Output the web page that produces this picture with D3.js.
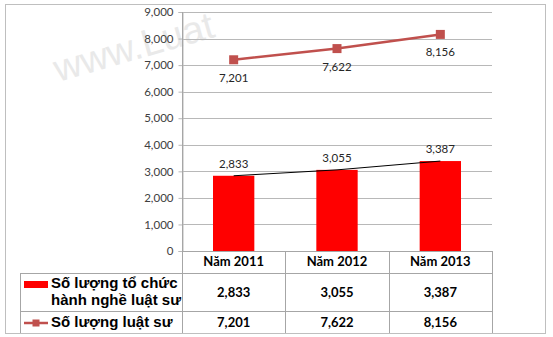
<!DOCTYPE html>
<html>
<head>
<meta charset="utf-8">
<script src="https://cdn.jsdelivr.net/npm/d3@7"></script>
<style>
  html, body { margin: 0; padding: 0; background: #fff; }
  svg { display: block; }
</style>
</head>
<body>
<svg id="chart" width="553" height="337"></svg>
<script>
const categories = ["Năm 2011", "Năm 2012", "Năm 2013"];
const orgCounts = [2833, 3055, 3387];
const lawyerCounts = [7201, 7622, 8156];
const yTicks = [0, 1000, 2000, 3000, 4000, 5000, 6000, 7000, 8000, 9000];
const orgLegendLines = ["Số lượng tổ chức", "hành nghề luật sư"];
const lawyerLegend = "Số lượng luật sư";
const watermark = "www.Luat";

const svg = d3.select("#chart");
const plotL = 182, plotR = 492, plotT = 12, plotB = 251;
const tableL = 20, row1B = 273, row2B = 311, tableB = 333;
const gridColor = "#B8B8B8";
const lineColor = "#C0504D";
const fmt = d3.format(",");

// watermark
svg.append("text")
  .attr("transform", "translate(58,82) rotate(-16)")
  .attr("font-family", "Liberation Sans, Arial, sans-serif")
  .attr("font-size", 38)
  .attr("fill", "#E9E9E9")
  .text(watermark);

// outer border
svg.append("rect")
  .attr("x", 5.5).attr("y", 4.5)
  .attr("width", 540).attr("height", tableB - 4)
  .attr("fill", "none").attr("stroke", "#BFBFBF").attr("stroke-width", 1);

const x = d3.scaleBand().domain(categories).range([plotL, plotR]);
const barW = x.bandwidth() * 0.4;
const y = d3.scaleLinear().domain([0, 9000]).range([plotB, plotT]);

// gridlines
svg.append("g").selectAll("line").data(yTicks.filter(d => d > 0)).join("line")
  .attr("x1", plotL).attr("x2", plotR)
  .attr("y1", d => Math.round(y(d)) + 0.5).attr("y2", d => Math.round(y(d)) + 0.5)
  .attr("stroke", gridColor).attr("stroke-width", 1);

// y axis
const yAxis = svg.append("g")
  .attr("transform", `translate(${plotL + 0.5},0)`)
  .call(d3.axisLeft(y).tickValues(yTicks).tickSize(4).tickPadding(5).tickFormat(fmt));
yAxis.select(".domain").attr("stroke", gridColor);
yAxis.selectAll(".tick line").attr("stroke", gridColor);
yAxis.selectAll(".tick text")
  .attr("font-family", "Lato, sans-serif").attr("font-size", 11.5).attr("fill", "#404040");

// bars
svg.append("g").selectAll("rect").data(categories).join("rect")
  .attr("x", d => x(d) + (x.bandwidth() - barW) / 2)
  .attr("width", barW)
  .attr("y", (d, i) => y(orgCounts[i]))
  .attr("height", (d, i) => plotB - y(orgCounts[i]))
  .attr("fill", "#FF0000");

// thin black line through bar tops
const cx = d => x(d) + x.bandwidth() / 2;
svg.append("path")
  .datum(categories)
  .attr("d", d3.line().x(d => cx(d)).y((d, i) => y(orgCounts[i])))
  .attr("fill", "none").attr("stroke", "#000").attr("stroke-width", 1);

// bar labels
svg.append("g").selectAll("text").data(categories).join("text")
  .attr("x", d => cx(d))
  .attr("y", (d, i) => y(orgCounts[i]) - 8)
  .attr("text-anchor", "middle")
  .attr("font-family", "Lato, sans-serif").attr("font-size", 11.5).attr("fill", "#262626")
  .text((d, i) => fmt(orgCounts[i]));

// lawyer line
svg.append("path")
  .datum(categories)
  .attr("d", d3.line().x(d => cx(d)).y((d, i) => y(lawyerCounts[i])))
  .attr("fill", "none").attr("stroke", lineColor).attr("stroke-width", 2.5);
svg.append("g").selectAll("rect").data(categories).join("rect")
  .attr("x", d => cx(d) - 4.5).attr("y", (d, i) => y(lawyerCounts[i]) - 4.5)
  .attr("width", 9).attr("height", 9)
  .attr("fill", lineColor);
svg.append("g").selectAll("text").data(categories).join("text")
  .attr("x", d => cx(d))
  .attr("y", (d, i) => y(lawyerCounts[i]) + 22)
  .attr("text-anchor", "middle")
  .attr("font-family", "Lato, sans-serif").attr("font-size", 11.5).attr("fill", "#262626")
  .text((d, i) => fmt(lawyerCounts[i]));

// data table
const tbl = svg.append("g").attr("stroke", "#A6A6A6").attr("stroke-width", 1);
tbl.append("line").attr("x1", plotL).attr("x2", plotR).attr("y1", plotB + 0.5).attr("y2", plotB + 0.5);
tbl.append("line").attr("x1", tableL).attr("x2", plotR).attr("y1", row1B + 0.5).attr("y2", row1B + 0.5);
tbl.append("line").attr("x1", tableL).attr("x2", plotR).attr("y1", row2B + 0.5).attr("y2", row2B + 0.5);
tbl.append("line").attr("x1", tableL + 0.5).attr("x2", tableL + 0.5).attr("y1", row1B).attr("y2", tableB);
const dividers = categories.map(d => x(d)).concat([plotR]);
tbl.selectAll(".vd").data(dividers).join("line")
  .attr("x1", d => Math.round(d) + 0.5).attr("x2", d => Math.round(d) + 0.5)
  .attr("y1", (d, i) => i === 0 ? plotT : plotB).attr("y2", tableB);

const tf = "Lato, sans-serif";
svg.append("g").selectAll("text").data(categories).join("text")
  .attr("x", d => cx(d)).attr("y", 266)
  .attr("text-anchor", "middle").attr("font-family", tf).attr("font-weight", "bold")
  .attr("font-size", 13).attr("fill", "#000").text(d => d);
svg.append("g").selectAll("text").data(categories).join("text")
  .attr("x", d => cx(d)).attr("y", 297)
  .attr("text-anchor", "middle").attr("font-family", tf).attr("font-weight", "bold")
  .attr("font-size", 13).attr("fill", "#000").text((d, i) => fmt(orgCounts[i]));
svg.append("g").selectAll("text").data(categories).join("text")
  .attr("x", d => cx(d)).attr("y", 327)
  .attr("text-anchor", "middle").attr("font-family", tf).attr("font-weight", "bold")
  .attr("font-size", 13).attr("fill", "#000").text((d, i) => fmt(lawyerCounts[i]));

// legend keys
svg.append("rect").attr("x", 24).attr("y", 281).attr("width", 24).attr("height", 7).attr("fill", "#FF0000");
svg.append("line").attr("x1", 24).attr("x2", 48).attr("y1", 323).attr("y2", 323)
  .attr("stroke", lineColor).attr("stroke-width", 2.5);
svg.append("rect").attr("x", 32.5).attr("y", 319.5).attr("width", 7).attr("height", 7).attr("fill", lineColor);

const lf = "Liberation Sans, Arial, sans-serif";
svg.append("g").selectAll("text").data(orgLegendLines).join("text")
  .attr("x", 51).attr("y", (d, i) => 288 + i * 16.5)
  .attr("font-family", lf).attr("font-weight", "bold").attr("font-size", 15).attr("fill", "#000")
  .text(d => d);
svg.append("text").attr("x", 51).attr("y", 327)
  .attr("font-family", lf).attr("font-weight", "bold").attr("font-size", 15).attr("fill", "#000")
  .text(lawyerLegend);
</script>
</body>
</html>
